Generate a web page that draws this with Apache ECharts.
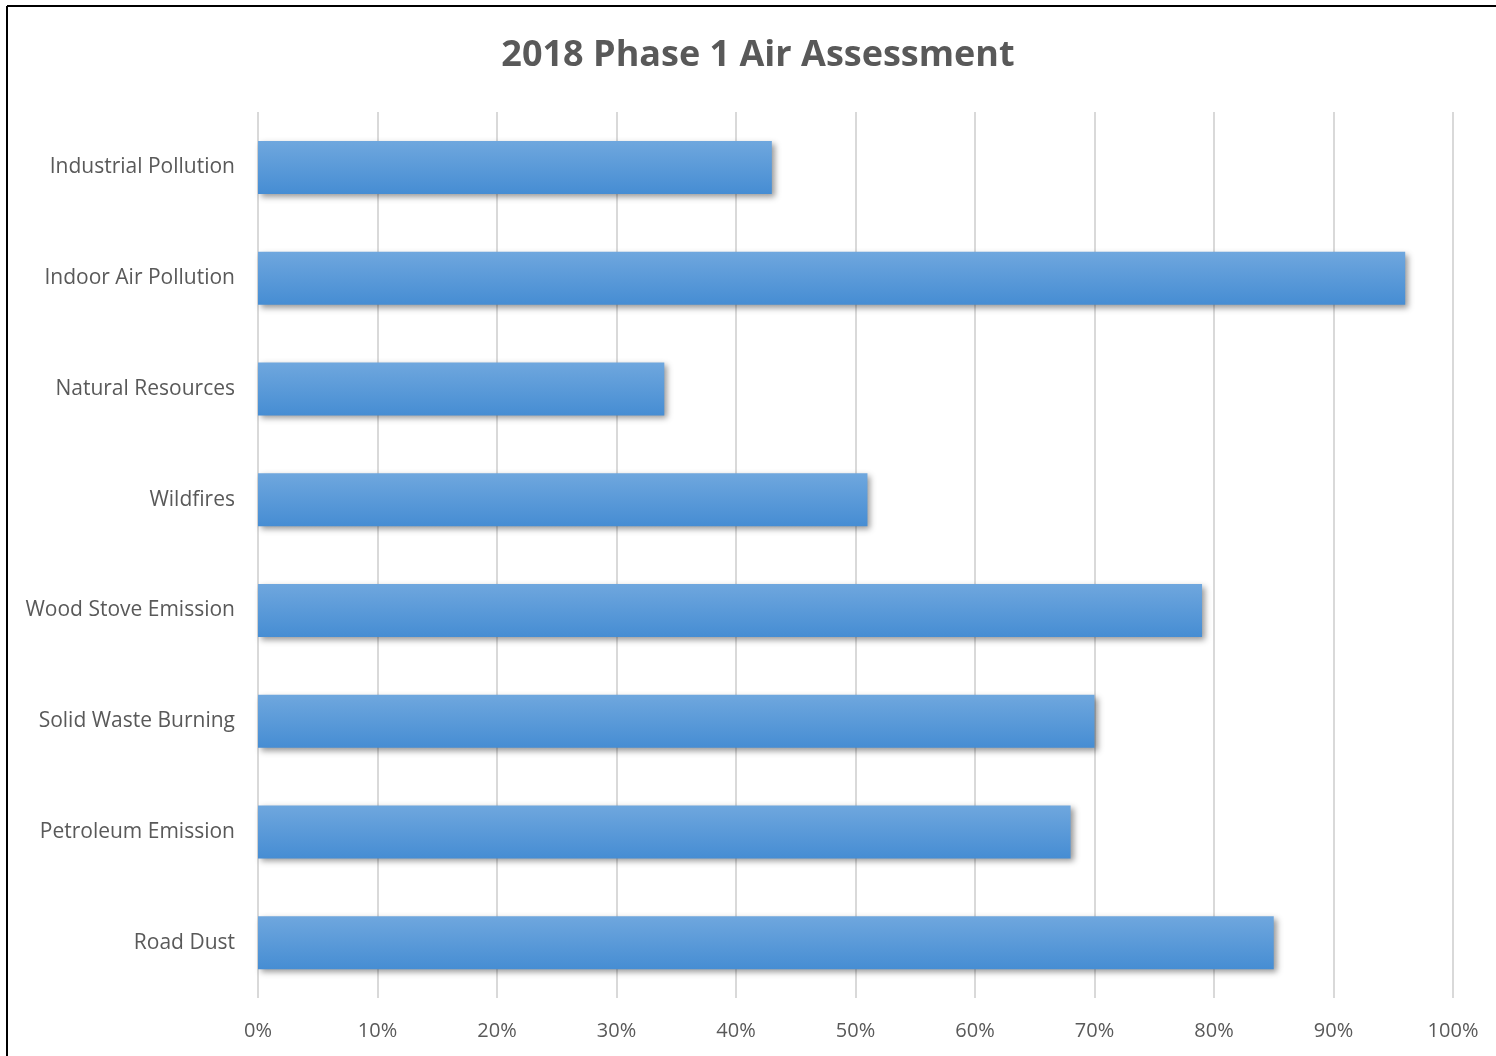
<!DOCTYPE html>
<html>
<head>
<meta charset="utf-8">
<script src="https://cdn.jsdelivr.net/npm/echarts@6/dist/echarts.min.js"></script>
<style>
  html, body { margin: 0; padding: 0; background: #fff; }
  #chart { width: 1496px; height: 1056px; }
</style>
</head>
<body>
<div id="chart"></div>
<script>
// categories top to bottom, as in the picture
var categories = ['Industrial Pollution', 'Indoor Air Pollution', 'Natural Resources', 'Wildfires',
  'Wood Stove Emission', 'Solid Waste Burning', 'Petroleum Emission', 'Road Dust'];
var values = [43, 96, 34, 51, 79, 70, 68, 85];

var myEcharts = echarts.init(document.getElementById('chart'));

myEcharts.setOption({
  backgroundColor: '#fff',
  animation: false,
  title: {
    text: '2018 Phase 1 Air Assessment',
    left: 753,
    top: 33,
    textAlign: 'center',
    textStyle: { fontFamily: 'Open Sans', fontSize: 36, fontWeight: 'bold', color: '#595959' }
  },
  grid: { left: 258, right: 43, top: 112, bottom: 58 },
  xAxis: {
    type: 'value',
    min: 0,
    max: 100,
    interval: 10,
    axisLine: { show: false },
    axisTick: { show: false },
    splitLine: { lineStyle: { color: '#d9d9d9', width: 2 } },
    axisLabel: {
      formatter: '{value}%',
      margin: 23,
      fontFamily: 'Open Sans',
      fontSize: 20,
      color: '#595959'
    }
  },
  yAxis: {
    type: 'category',
    inverse: true,
    data: categories,
    axisLine: { show: false },
    axisTick: { show: false },
    axisLabel: { margin: 23, fontFamily: 'Open Sans', fontSize: 21, color: '#595959', padding: [6, 0, 0, 0] }
  },
  series: [{
    type: 'bar',
    data: values,
    barWidth: 53,
    itemStyle: {
      color: new echarts.graphic.LinearGradient(0, 0, 0, 1, [
        { offset: 0, color: '#6fa7de' },
        { offset: 1, color: '#468dd3' }
      ]),
      shadowColor: 'rgba(0,0,0,0.4)',
      shadowBlur: 6,
      shadowOffsetX: 3,
      shadowOffsetY: 3
    }
  }],
  graphic: [
    { type: 'line', shape: { x1: 7, y1: 6, x2: 1496, y2: 6 }, style: { stroke: '#000', lineWidth: 2 } },
    { type: 'line', shape: { x1: 7, y1: 6, x2: 7, y2: 1056 }, style: { stroke: '#000', lineWidth: 2 } }
  ]
});
</script>
</body>
</html>
